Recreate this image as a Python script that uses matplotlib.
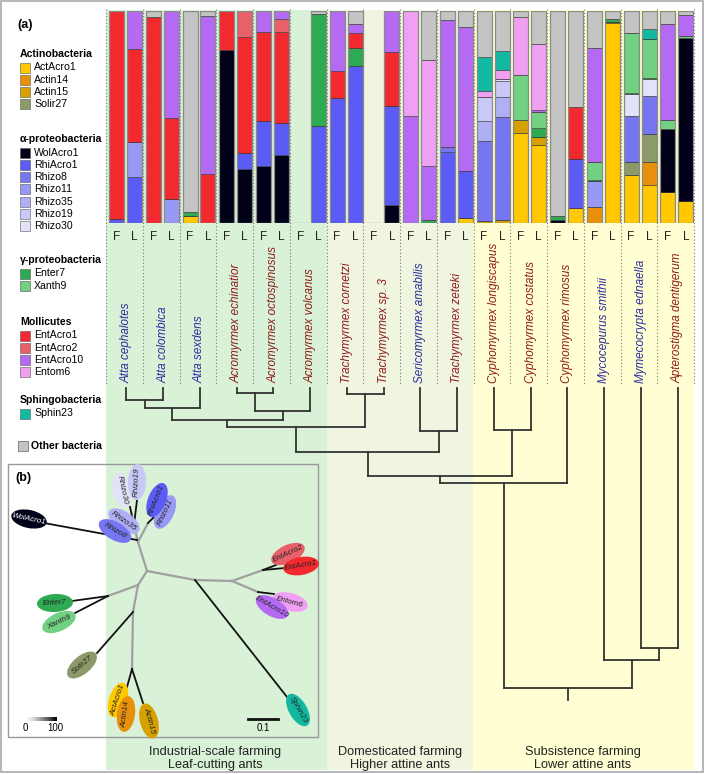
import matplotlib
matplotlib.use('Agg')
import matplotlib.pyplot as plt
from matplotlib.patches import Rectangle, Ellipse
import numpy as np

plt.rcParams['font.family'] = ['Liberation Sans', 'DejaVu Sans']

# 物種（每個物種兩根柱：F, L）
species = ['Atta cephalotes', 'Atta colombica', 'Atta sexdens',
           'Acromyrmex echinatior', 'Acromyrmex octospinosus', 'Acromyrmex volcanus',
           'Trachymyrmex cornetzi', 'Trachymyrmex sp. 3', 'Sericomyrmex amabilis',
           'Trachymyrmex zeteki', 'Cyphomyrmex longiscapus', 'Cyphomyrmex costatus',
           'Cyphomyrmex rimosus', 'Mycocepurus smithii', 'Mymecocrypta ednaella',
           'Apterostigma dentigerum']
species_blue = [True, True, True, False, False, False, False, False, True,
                False, False, False, False, True, True, False]

# 相對豐度 (%)，順序：F0, L0, F1, L1, ...
act_acro1 = [0, 0, 0, 0, 3.5, 0, 0, 0, 0, 0, 0, 0, 0, 0, 0, 0,
             0, 0, 0, 2.4, 0, 0, 42.5, 36.9, 0, 7.1, 0, 94.5, 22.5, 18.1, 14.6, 10.2]
actin14 = [0, 0, 0, 0, 0, 0, 0, 0, 0, 0, 0, 0, 0, 0, 0, 0,
           0, 0, 0, 0, 0, 0, 0, 0, 0, 0, 7.5, 0.5, 0, 10.5, 0, 0]
actin15 = [0, 0, 0, 0, 0, 0, 0, 0, 0, 0, 0, 0, 0, 0, 0, 0,
           0, 0, 0, 0, 0.8, 1.6, 6, 3.9, 0, 0, 0, 0, 0, 0, 0, 0]
solir27 = [0, 0, 0, 0, 0, 0, 0, 0, 0, 0, 0, 0, 0, 0, 0, 0,
           0, 0, 0, 0, 0, 0, 0, 0, 0, 0, 0, 0, 6.3, 13.5, 0, 0]
wol_acro1 = [0, 0, 0, 0, 0, 0, 81.4, 25.3, 26.7, 32.2, 0, 0, 0, 0, 0, 8.3,
             0, 0, 0, 0, 0, 0, 0, 0, 1.2, 0, 0, 0, 0, 0, 29.7, 77]
rhi_acro1 = [2, 21.7, 0, 0, 0, 0, 0, 7.7, 21.2, 14.9, 0, 45.6, 59, 74.2, 0, 47,
             0, 0, 33.3, 22, 0, 0, 0, 0, 0, 23.1, 0, 0, 0, 0, 0, 0]
rhizo8 = [0, 0, 0, 0, 0, 0, 0, 0, 0, 0, 0, 0, 0, 0, 0, 0,
          0, 0, 2.4, 0, 37.7, 48.3, 0, 0, 0, 0, 0, 0, 21.5, 17.6, 0, 0]
rhizo11 = [0, 16.4, 0, 11.5, 0, 0, 0, 0, 0, 0, 0, 0, 0, 0, 0, 0,
           0, 0, 0, 0, 0, 0, 0, 0, 0, 0, 12.4, 0, 0, 0, 0, 0]
rhizo35 = [0, 0, 0, 0, 0, 0, 0, 0, 0, 0, 0, 0, 0, 0, 0, 0,
           0, 0, 0, 0, 9.4, 9.6, 0, 0, 0, 0, 0, 0, 0, 0, 0, 0]
rhizo19 = [0, 0, 0, 0, 0, 0, 0, 0, 0, 0, 0, 0, 0, 0, 0, 0,
           0, 0, 0, 0, 11.5, 7.4, 0, 0, 0, 0, 0, 0, 0, 0, 0, 0]
rhizo30 = [0, 0, 0, 0, 0, 0, 0, 0, 0, 0, 0, 0, 0, 0, 0, 0,
           0, 0, 0, 0, 0, 1.1, 0, 0, 0, 0, 0, 0, 10.7, 8.2, 0, 0]
enter7 = [0, 0, 0, 0, 1.5, 0, 0, 0, 0, 0, 0, 53.1, 0, 8.3, 0, 0,
          0, 1.6, 0, 0, 0, 0, 0, 3.9, 1.9, 0, 0.5, 1.1, 0.5, 0.6, 0, 0]
xanth9 = [0, 0, 0, 0, 0, 0, 0, 0, 0, 0, 0, 0, 0, 0, 0, 0,
          0, 0, 0, 0, 0, 0, 21.5, 7.5, 0, 0, 8.6, 0, 28.1, 18.1, 4.1, 0.8]
ent_acro1 = [98, 44, 97, 38.2, 0, 23.3, 18.6, 54.6, 42.1, 42.9, 0, 0, 12.6, 7.1, 0, 25.2,
             0, 0, 0, 0, 0, 0, 0, 0, 0, 24.5, 0, 0, 0, 0, 0, 0]
ent_acro2 = [0, 0, 0, 0, 0, 0, 0, 12.4, 0, 6.1, 0, 0, 0, 0, 0, 0,
             0, 0, 0, 0, 0, 0, 0, 0, 0, 0, 0, 0, 0, 0, 0, 0]
ent_acro10 = [0, 17.9, 0, 50.3, 0, 74.4, 0, 0, 10, 3.9, 0, 0, 28.4, 4.4, 0, 19.5,
              50.3, 25.5, 60.1, 68.2, 0, 0, 0, 1.1, 0, 0, 53.6, 0, 0, 0, 45.6, 10.2]
entom6 = [0, 0, 0, 0, 0, 0, 0, 0, 0, 0, 0, 0, 0, 0, 0, 0,
          49.7, 50, 0, 0, 2.7, 4.1, 27, 31, 0, 0, 0, 0, 0, 0, 0, 0]
sphin23 = [0, 0, 0, 0, 0, 0, 0, 0, 0, 0, 0, 0, 0, 0, 0, 0,
           0, 0, 0, 0, 16.2, 9, 0, 0, 0, 0, 0, 0, 0, 4.9, 0, 0]
other = [0, 0, 3, 0, 95, 2.3, 0, 0, 0, 0, 0, 1.3, 0, 6, 0, 0,
         0, 22.9, 4.2, 7.4, 21.7, 18.9, 3, 15.7, 96.9, 45.3, 17.4, 3.9, 10.4, 8.5, 6, 1.8]

# 分類群：名稱、數據、顏色（由下往上堆疊）
series = [
    ('ActAcro1', act_acro1, '#ffc800'), ('Actin14', actin14, '#e8900c'),
    ('Actin15', actin15, '#d6a000'), ('Solir27', solir27, '#8c9a6a'),
    ('WolAcro1', wol_acro1, '#000018'), ('RhiAcro1', rhi_acro1, '#5b5bf5'),
    ('Rhizo8', rhizo8, '#7676f0'), ('Rhizo11', rhizo11, '#9898f5'),
    ('Rhizo35', rhizo35, '#afaff6'), ('Rhizo19', rhizo19, '#c9c9f8'),
    ('Rhizo30', rhizo30, '#e2e2f8'), ('Enter7', enter7, '#2eaa52'),
    ('Xanth9', xanth9, '#72d082'), ('EntAcro1', ent_acro1, '#f22a30'),
    ('EntAcro2', ent_acro2, '#e8606a'), ('EntAcro10', ent_acro10, '#b46af2'),
    ('Entom6', entom6, '#f0a0f2'), ('Sphin23', sphin23, '#12b8a0'),
    ('Other bacteria', other, '#c4c4c4'),
]
colors = {name: c for name, _, c in series}

legend_groups = [
    ('Actinobacteria', ['ActAcro1', 'Actin14', 'Actin15', 'Solir27']),
    ('α-proteobacteria', ['WolAcro1', 'RhiAcro1', 'Rhizo8', 'Rhizo11', 'Rhizo35', 'Rhizo19', 'Rhizo30']),
    ('γ-proteobacteria', ['Enter7', 'Xanth9']),
    ('Mollicutes', ['EntAcro1', 'EntAcro2', 'EntAcro10', 'Entom6']),
    ('Sphingobacteria', ['Sphin23']),
]
heading_y = [54, 139, 260, 322, 400]

# 螞蟻系統樹：(子1, 子2, 高度)；0-15 為物種，之後依序為內部節點
tree_joins = [(0, 1, 400), (16, 2, 408), (3, 4, 393), (18, 5, 411), (17, 19, 420),
              (6, 7, 394), (20, 21, 427), (8, 9, 431), (22, 23, 452), (10, 11, 430),
              (24, 25, 476), (26, 12, 483), (14, 15, 648), (13, 28, 660), (27, 29, 688)]

# (b) 細菌無根樹：內部枝（灰）與末端枝（黑）
inner_edges = [((147, 571), (138, 542)), ((138, 542), (148, 523)), ((138, 542), (134, 525)),
               ((147, 571), (138, 585)), ((138, 585), (108, 596)), ((138, 585), (133, 612)),
               ((133, 612), (132, 669)), ((147, 571), (195, 580)), ((195, 580), (232, 581)),
               ((232, 581), (263, 570)), ((232, 581), (258, 592))]
tip_edges = [((148, 523), (156, 515)), ((134, 525), (130, 507)), ((134, 525), (137, 500)),
             ((137, 540), (44, 523)), ((108, 596), (72, 601)), ((108, 596), (75, 613)),
             ((133, 612), (97, 653)), ((132, 669), (127, 687)), ((132, 669), (143, 703)),
             ((195, 580), (287, 697)), ((263, 570), (276, 565)), ((263, 570), (285, 568)),
             ((258, 592), (274, 594))]
# 橢圓標籤：名稱、中心、角度
tree_labels = [('Rhizo30', (122, 490), -78), ('Rhizo19', (137, 482), 88),
               ('Rhizo11', (165, 512), 65), ('RhiAcro1', (157, 500), 68),
               ('WolAcro1', (29, 519), -12), ('Rhizo35', (124, 521), -35),
               ('Rhizo8', (115, 531), -30), ('Enter7', (55, 603), 3),
               ('Xanth9', (59, 622), 25), ('Solir27', (82, 665), 40),
               ('ActAcro1', (118, 700), 72), ('Actin14', (126, 714), 82),
               ('Actin15', (149, 721), -75), ('EntAcro2', (288, 554), 25),
               ('EntAcro1', (301, 566), 10), ('Entom6', (290, 602), -15),
               ('EntAcro10', (272, 607), -30), ('Sphin23', (298, 710), -60)]

# 版面（像素）
W, H = 709, 774
x0, pitch = 106, 36.75
bar_top, bar_bot = 11, 223

fig = plt.figure(figsize=(W / 100, H / 100), dpi=100)
bg = fig.add_axes([0, 0, 1, 1])
bg.set_xlim(0, W)
bg.set_ylim(H, 0)
bg.axis('off')

# 背景色帶
for xa, xb, c in [(x0, 327, '#d9f1d6'), (327, 473, '#eff5df'), (473, 694, '#ffffd3')]:
    bg.add_patch(Rectangle((xa, 10), xb - xa, 760, color=c, lw=0, zorder=0))
bg.add_patch(Rectangle((1, 1), 702, 771, fill=False, ec='#aaaaaa', lw=1.2, zorder=5))

# 堆疊柱狀圖
ax = fig.add_axes([x0 / W, 1 - bar_bot / H, 16 * pitch / W, (bar_bot - bar_top) / H])
ax.patch.set_alpha(0)
ax.set_zorder(2)
n_bars = len(other)
xpos = np.array([g + (10.5 if k == 0 else 28.5) / pitch for g in range(16) for k in range(2)])
bw = 15 / pitch
bottom = np.zeros(n_bars)
for name, vals, c in series:
    vals = np.array(vals, dtype=float)
    ax.bar(xpos, vals, bw, bottom=bottom, color=c, edgecolor='#3a3a3a', linewidth=0.4)
    bottom += vals
ax.bar(xpos, bottom, bw, fill=False, edgecolor='#8a8a8a', linewidth=0.9)
ax.set_xlim(0, 16)
ax.set_ylim(0, 100)
ax.axis('off')

# 虛線、F/L、物種名稱
for k in range(17):
    bg.plot([x0 + k * pitch] * 2, [9, 385], ls=(0, (1, 2)), color='#777777', lw=0.8, zorder=1)
for i, x in enumerate(xpos):
    bg.text(x0 + x * pitch, 237, 'FL'[i % 2], ha='center', va='center', fontsize=8.5, color='#222222')
tip_x = [x0 + pitch * (i + 0.5) + 2 for i in range(16)]
for i, name in enumerate(species):
    bg.text(tip_x[i], 383, name, rotation=90, ha='center', va='bottom', fontsize=8.4,
            style='italic', color='#2b2b9e' if species_blue[i] else '#8e1b1b')

# 螞蟻系統樹
node_x = list(tip_x)
node_y = [388] * 16
for a, b, y in tree_joins:
    for n in (a, b):
        bg.plot([node_x[n]] * 2, [node_y[n], y], color='#333333', lw=1.3, zorder=2)
    bg.plot([node_x[a], node_x[b]], [y, y], color='#333333', lw=1.3, zorder=2,
            solid_capstyle='projecting')
    node_x.append((node_x[a] + node_x[b]) / 2)
    node_y.append(y)
bg.plot([node_x[-1]] * 2, [node_y[-1], 700], color='#333333', lw=1.3, zorder=2)

# 圖例 (a)
bg.text(17, 25, '(a)', fontsize=9, fontweight='bold', va='center')
for (title, names), hy in zip(legend_groups, heading_y):
    bg.text(20, hy, title, fontsize=7.6, fontweight='bold', va='center')
    for j, name in enumerate(names):
        y = hy + 13.5 + 12.3 * j
        bg.add_patch(Rectangle((20, y - 5), 10, 10, fc=colors[name], ec='#555555', lw=0.4))
        bg.text(34, y, name, fontsize=7.6, va='center')
bg.add_patch(Rectangle((18, 441), 10, 10, fc=colors['Other bacteria'], ec='#777777', lw=0.6))
bg.text(31, 446, 'Other bacteria', fontsize=7.6, fontweight='bold', va='center')

# (b) 細菌樹
bg.add_patch(Rectangle((8, 464), 310, 273, fill=False, ec='#999999', lw=1, zorder=3))
bg.text(15, 478, '(b)', fontsize=9, fontweight='bold', va='center', zorder=6)
for p, q in inner_edges:
    bg.plot([p[0], q[0]], [p[1], q[1]], color='#a0a0a0', lw=1.6, zorder=3)
for p, q in tip_edges:
    bg.plot([p[0], q[0]], [p[1], q[1]], color='#111111', lw=1.3, zorder=3)
for name, (cx, cy), ang in tree_labels:
    bg.add_patch(Ellipse((cx, cy), 36, 18, angle=-ang, fc=colors[name], ec='none', zorder=4))
    bg.text(cx, cy, name, rotation=ang, rotation_mode='anchor', ha='center', va='center',
            fontsize=5.8, style='italic', zorder=5,
            color='white' if name == 'WolAcro1' else '#222222')
grad = np.linspace(0, 1, 64).reshape(1, -1)
bg.imshow(grad, cmap='Greys', extent=(25, 57, 721, 717), aspect='auto', zorder=4)
bg.set_xlim(0, W)
bg.set_ylim(H, 0)
bg.text(25, 728, '0', fontsize=7, ha='center', va='center')
bg.text(55, 728, '100', fontsize=7, ha='center', va='center')
bg.plot([248, 278], [719, 719], color='#111111', lw=2, zorder=4)
bg.text(263, 728, '0.1', fontsize=7, ha='center', va='center')

# 底部標籤
for x, l1, l2 in [(215, 'Industrial-scale farming', 'Leaf-cutting ants'),
                  (400, 'Domesticated farming', 'Higher attine ants'),
                  (583, 'Subsistence farming', 'Lower attine ants')]:
    bg.text(x, 752, l1, ha='center', va='center', fontsize=9.2, color='#222222')
    bg.text(x, 765, l2, ha='center', va='center', fontsize=9.2, color='#222222')

fig.savefig('out.png', dpi=100)
